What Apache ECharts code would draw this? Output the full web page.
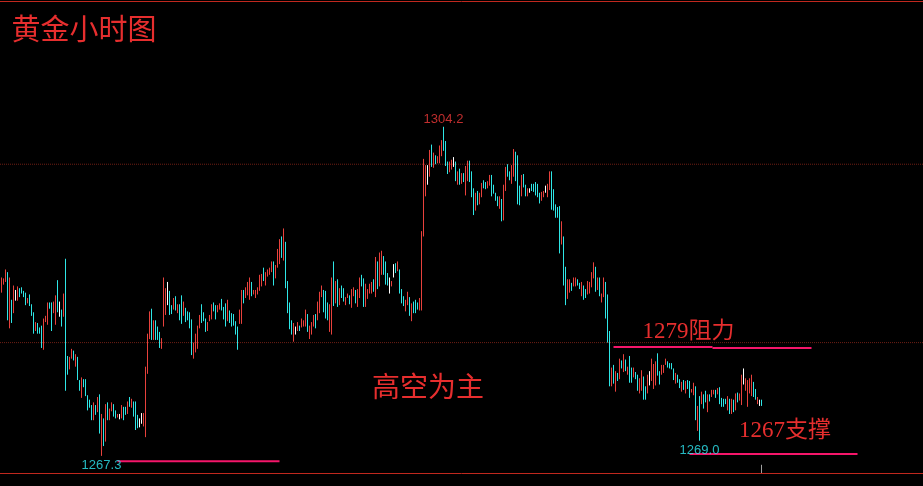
<!DOCTYPE html>
<html><head><meta charset="utf-8">
<script src="https://cdn.jsdelivr.net/npm/echarts@6/dist/echarts.min.js"></script>
<style>html,body{margin:0;padding:0;background:#000;}#c{width:923px;height:486px;}</style>
</head><body><div id="c"></div>
<script>
// hourly bars: high / low prices, direction u=up(red) d=down(cyan) n=flat(white)
const highs = [
1287.3,1287.2,1288.2,1287.9,1287.3,1284.8,1286.4,1285.9,1286.3,1286.1,
1286.2,1285.8,1285.6,1285.0,1285.4,1284.3,1283.4,1282.3,1282.2,1281.7,
1281.9,1282.7,1283.0,1284.5,1284.5,1284.5,1284.6,1285.3,1287.0,1284.6,
1283.7,1285.5,1289.4,1278.5,1278.4,1279.3,1279.1,1278.7,1278.4,1275.8,
1276.1,1275.9,1275.9,1274.1,1273.6,1273.0,1273.3,1273.0,1273.9,1274.2,
1272.0,1271.5,1273.1,1273.3,1272.6,1273.3,1273.1,1272.4,1272.0,1272.0,
1273.0,1272.8,1272.8,1273.4,1273.9,1273.7,1273.4,1273.4,1271.9,1271.5,
1272.1,1272.1,1277.3,1281.0,1283.5,1283.8,1282.5,1282.5,1281.8,1281.2,
1280.5,1287.3,1286.1,1286.8,1285.8,1284.2,1285.0,1285.2,1284.3,1284.3,
1285.3,1284.6,1283.9,1283.5,1283.4,1282.6,1280.0,1281.0,1281.9,1283.1,
1284.3,1283.4,1282.7,1282.3,1283.1,1284.3,1284.5,1284.2,1284.2,1284.4,
1284.9,1284.0,1284.4,1284.8,1283.6,1283.3,1283.2,1282.4,1281.8,1283.7,
1285.9,1285.9,1286.2,1286.8,1287.3,1286.8,1285.9,1285.9,1286.2,1287.6,
1287.7,1288.4,1287.9,1288.2,1288.4,1289.1,1289.1,1288.7,1290.5,1291.6,
1291.9,1292.8,1291.3,1286.9,1284.5,1282.5,1282.2,1281.8,1282.3,1281.9,
1282.7,1282.5,1283.7,1283.2,1281.9,1282.3,1283.1,1283.2,1284.6,1285.7,
1286.4,1285.9,1285.8,1284.5,1284.3,1287.3,1289.1,1286.9,1287.1,1286.1,
1286.4,1286.1,1285.1,1285.5,1285.3,1286.0,1286.2,1285.9,1286.0,1287.3,
1287.6,1287.2,1286.6,1286.0,1286.6,1286.8,1287.1,1289.6,1289.1,1290.1,
1290.3,1289.7,1289.1,1287.8,1287.3,1286.9,1288.8,1288.9,1289.1,1288.2,
1286.0,1285.2,1284.8,1285.7,1285.1,1284.4,1284.6,1284.8,1284.5,1285.0,
1292.5,1300.6,1299.9,1299.9,1301.6,1302.2,1301.3,1301.0,1300.9,1302.1,
1302.7,1304.2,1302.6,1300.3,1300.3,1300.5,1300.8,1300.3,1299.2,1299.5,
1299.0,1299.0,1299.8,1300.4,1300.4,1299.2,1297.3,1296.8,1297.0,1296.8,
1297.9,1298.2,1298.0,1298.1,1298.8,1298.8,1297.7,1296.8,1296.4,1296.4,
1296.1,1297.7,1299.7,1300.0,1299.2,1299.9,1301.7,1301.4,1301.0,1297.6,
1298.8,1298.9,1297.7,1297.3,1297.3,1297.8,1297.8,1298.0,1297.8,1296.8,
1296.9,1297.0,1297.6,1297.8,1299.2,1299.2,1297.2,1295.5,1295.2,1295.3,
1293.6,1291.9,1288.5,1287.1,1287.1,1286.7,1287.3,1287.3,1287.1,1286.7,
1286.8,1286.4,1286.0,1286.9,1286.8,1287.9,1289.0,1288.5,1287.3,1287.3,
1285.5,1287.3,1286.8,1285.4,1281.3,1277.2,1277.5,1276.8,1276.6,1278.2,
1278.0,1278.7,1278.1,1277.3,1278.5,1277.2,1277.2,1276.7,1276.4,1276.0,
1276.9,1276.2,1275.1,1276.4,1276.8,1278.2,1277.6,1277.9,1278.8,1276.8,
1277.5,1277.5,1278.2,1277.9,1277.7,1277.7,1277.1,1276.6,1276.4,1275.9,
1275.6,1275.8,1275.7,1275.8,1275.7,1274.8,1275.5,1275.1,1272.9,1274.0,
1274.5,1274.2,1274.6,1274.2,1274.2,1274.7,1274.7,1274.7,1274.9,1275.0,
1273.8,1273.7,1273.7,1274.0,1273.7,1273.7,1273.6,1274.3,1274.4,1274.3,
1276.4,1277.1,1276.0,1275.8,1276.0,1276.4,1275.6,1274.8,1273.9,1273.6,1273.6
];
const lows = [
1285.6,1286.5,1286.8,1282.5,1281.6,1282.2,1283.3,1284.7,1284.7,1285.1,
1285.5,1285.1,1284.2,1284.4,1284.1,1283.0,1281.0,1281.3,1281.0,1281.0,
1279.4,1279.2,1282.3,1282.0,1283.8,1281.3,1283.3,1282.0,1283.4,1282.9,
1281.8,1282.9,1274.6,1276.4,1277.0,1278.2,1278.0,1277.3,1275.8,1274.6,
1273.8,1275.0,1274.0,1272.4,1272.7,1271.3,1271.3,1271.9,1272.2,1269.8,
1267.3,1268.4,1268.9,1271.3,1271.3,1272.3,1271.7,1271.5,1271.6,1271.4,
1271.5,1271.3,1271.9,1272.0,1272.8,1272.7,1271.7,1270.2,1270.4,1270.5,
1270.9,1270.6,1269.4,1276.5,1280.4,1280.3,1280.3,1280.3,1280.3,1279.4,
1279.3,1281.8,1283.1,1284.2,1283.1,1283.2,1283.7,1283.6,1283.3,1282.5,
1282.1,1283.0,1282.3,1282.5,1281.6,1278.6,1278.2,1278.9,1279.3,1281.6,
1282.2,1282.4,1281.2,1281.3,1282.4,1282.6,1283.5,1282.6,1283.4,1283.7,
1283.6,1282.6,1281.8,1282.4,1282.2,1281.8,1281.9,1280.9,1279.2,1282.1,
1282.1,1284.4,1285.0,1285.3,1284.8,1285.2,1285.4,1285.0,1285.4,1285.8,
1286.3,1286.9,1286.4,1287.4,1287.6,1287.9,1286.4,1287.2,1288.4,1288.8,
1289.5,1289.2,1286.1,1283.3,1281.5,1280.9,1280.1,1280.9,1281.3,1281.3,
1281.7,1281.8,1281.8,1281.2,1280.4,1280.9,1281.8,1281.6,1282.5,1283.3,
1285.1,1283.4,1282.7,1282.5,1281.2,1280.9,1284.1,1284.4,1284.0,1284.2,
1285.0,1284.6,1284.2,1285.0,1284.3,1283.9,1285.2,1284.4,1284.0,1285.0,
1286.3,1284.0,1284.0,1284.9,1285.5,1285.5,1285.7,1285.1,1286.0,1286.3,
1287.6,1287.6,1286.5,1286.4,1285.5,1286.3,1287.3,1287.8,1288.0,1285.5,
1284.4,1284.1,1283.5,1284.2,1283.0,1282.4,1283.3,1283.3,1283.7,1283.6,
1283.6,1291.9,1296.4,1297.7,1298.6,1299.7,1299.6,1300.0,1300.1,1300.1,
1300.9,1301.5,1299.8,1298.9,1299.1,1299.4,1299.7,1298.1,1297.7,1297.7,
1297.8,1298.0,1296.5,1298.1,1298.0,1296.3,1294.3,1294.8,1295.4,1295.5,
1296.3,1297.3,1297.2,1297.3,1297.6,1296.4,1296.7,1295.9,1295.3,1295.0,
1293.6,1293.7,1297.0,1298.6,1298.2,1297.8,1298.6,1298.1,1295.5,1295.4,
1296.4,1297.4,1296.4,1296.4,1296.8,1297.0,1296.9,1296.5,1296.3,1295.6,
1295.9,1296.3,1296.8,1296.3,1297.1,1294.9,1294.8,1294.0,1294.0,1290.0,
1291.0,1286.4,1284.2,1284.9,1285.6,1285.8,1286.3,1286.3,1286.4,1286.0,
1285.2,1284.8,1285.0,1285.4,1285.5,1286.2,1287.2,1285.7,1285.9,1285.2,
1284.5,1285.1,1282.7,1280.0,1275.1,1275.1,1275.4,1274.5,1275.7,1275.9,
1277.1,1276.7,1276.8,1276.4,1275.5,1275.5,1276.1,1275.9,1274.6,1274.3,
1274.6,1273.6,1273.6,1274.3,1275.2,1275.7,1274.8,1275.2,1276.3,1275.3,
1276.4,1276.6,1277.5,1277.2,1277.1,1277.0,1275.8,1275.4,1275.5,1274.9,
1274.5,1274.7,1274.3,1274.8,1273.8,1274.4,1274.1,1271.3,1270.1,1269.0,
1273.1,1272.6,1273.3,1272.2,1273.4,1273.9,1274.2,1273.8,1274.2,1273.1,
1272.8,1272.8,1273.1,1272.4,1272.0,1272.0,1272.2,1272.4,1273.3,1273.5,
1273.0,1275.3,1274.6,1272.8,1274.3,1274.0,1273.9,1273.6,1273.1,1272.9,1272.9
];
const dirs = (
"uuududunud"+"dddudddudd"+"duuudduudn"+"dudduududd"+"udddddudud"+
"ududuuddun"+"uddududddn"+"nuuuududdd"+"uuunddudud"+"dudddduuuu"+
"ddduuudduu"+"dddudddddu"+"uduuuduuuu"+"uduuuuduuu"+"duddddunud"+
"uuuduuuduu"+"uddduududu"+"dduuduuduu"+"dduuuududu"+"udddnundud"+
"dduududddu"+"uuunududuu"+"uddduundud"+"uduudddudu"+"udduuddddu"+
"duudduuddd"+"uddunddddd"+"uunuuddddd"+"udduuduudd"+"udduuuudud"+
"uudddududu"+"dududduddu"+"uddunuuudd"+"uuuddddudd"+"ududduudud"+
"udduduudud"+"dddudududu"+"unuuuuddund").split('');

// labelled extremes
const extremeIdx  = [221, 50, 349];
const extremeVal  = [1304.2, 1267.3, 1269.0];
const extremeKind = ['high', 'low', 'low'];

// horizontal grid levels and drawn level lines [fromBar, toBar, price]
const gridLevels = [1280, 1300];
const levelLines = [[306, 355.5, 1279.5], [355.5, 405, 1279.4], [344, 428, 1267.5], [58, 139, 1266.7]];
// current-bar marker
const markerBar = 380, markerTop = 1266.3;

const X_MIN = -0.75, X_MAX = 460.75, Y_MIN = 1265.38, Y_MAX = 1318.3;
const COLORS = {u: '#e8413c', d: '#2ee6e6', n: '#ffffff'};
const RED_TXT = '#e62e2e';
const AXIS_RED = '#c0281e';

const bars = highs.map((h, i) => [i, h, lows[i]]);

const series = [];
gridLevels.forEach(lv => series.push({
  type: 'line', data: [[X_MIN, lv], [X_MAX, lv]], symbol: 'none', silent: true, z: 1,
  lineStyle: {color: '#6e1e14', width: 1, type: [1, 1]}, animation: false
}));
series.push({
  type: 'custom', data: bars, z: 2, silent: true, animation: false,
  renderItem: function (params, api) {
    const i = api.value(0);
    const p1 = api.coord([i, api.value(1)]);
    const p2 = api.coord([i, api.value(2)]);
    const x = Math.round(p1[0] - 0.5) + 0.5;
    let y1 = p1[1], y2 = p2[1];
    if (y2 - y1 < 1) y2 = y1 + 1;
    return {type: 'line', shape: {x1: x, y1: y1, x2: x, y2: y2},
            style: {stroke: COLORS[dirs[i]] || '#fff', lineWidth: 1}};
  }
});
levelLines.forEach(s => series.push({
  type: 'line', data: [[s[0], s[2]], [s[1], s[2]]], symbol: 'none', silent: true, z: 3,
  lineStyle: {color: '#f5166a', width: 2}, animation: false
}));
series.push({
  type: 'line', data: [[markerBar, markerTop], [markerBar, Y_MIN]], symbol: 'none', silent: true, z: 3,
  lineStyle: {color: '#a0a0a0', width: 1}, animation: false
});
series.push({
  type: 'scatter', symbolSize: 1, z: 4, silent: true, animation: false,
  itemStyle: {color: 'rgba(0,0,0,0)'},
  data: extremeIdx.map((idx, k) => ({
    value: [idx, extremeVal[k]],
    label: {
      show: true, formatter: extremeVal[k].toFixed(1),
      position: extremeKind[k] === 'high' ? 'top' : 'bottom',
      distance: extremeKind[k] === 'high' ? 0 : 3,
      color: extremeKind[k] === 'high' ? '#f03a3a' : '#2ee6f0',
      fontFamily: 'Liberation Sans', fontSize: 13
    }
  }))
});

const chart = echarts.init(document.getElementById('c'), null, {renderer: 'canvas'});
const txt = (t, x, y, size, family) => ({
  type: 'text', x: x, y: y, silent: true, z: 100,
  style: {text: t, fontSize: size, fontFamily: family, fill: RED_TXT,
          align: 'center', verticalAlign: 'middle'}
});
chart.setOption({
  backgroundColor: '#000',
  animation: false,
  grid: {left: 0, right: 0, top: 1, bottom: 13},
  xAxis: [
    {type: 'value', min: X_MIN, max: X_MAX, position: 'bottom',
     axisLine: {show: true, onZero: false, lineStyle: {color: AXIS_RED, width: 1}},
     axisTick: {show: false}, axisLabel: {show: false}, splitLine: {show: false}},
    {type: 'value', min: X_MIN, max: X_MAX, position: 'top',
     axisLine: {show: true, onZero: false, lineStyle: {color: AXIS_RED, width: 1}},
     axisTick: {show: false}, axisLabel: {show: false}, splitLine: {show: false}}
  ],
  yAxis: {type: 'value', min: Y_MIN, max: Y_MAX, show: false, splitLine: {show: false}},
  series: series,
  graphic: [
    txt('黄金小时图', 84, 29, 29, '"Noto Sans CJK SC"'),
    txt('高空为主', 428, 386, 28, '"Noto Sans CJK SC"'),
    txt('1279阻力', 688.5, 331.5, 23, '"Liberation Serif", "DejaVu Serif", "Noto Sans CJK SC", serif'),
    txt('1267支撑', 785, 431, 23, '"Liberation Serif", "DejaVu Serif", "Noto Sans CJK SC", serif')
  ]
});
</script>
</body></html>
